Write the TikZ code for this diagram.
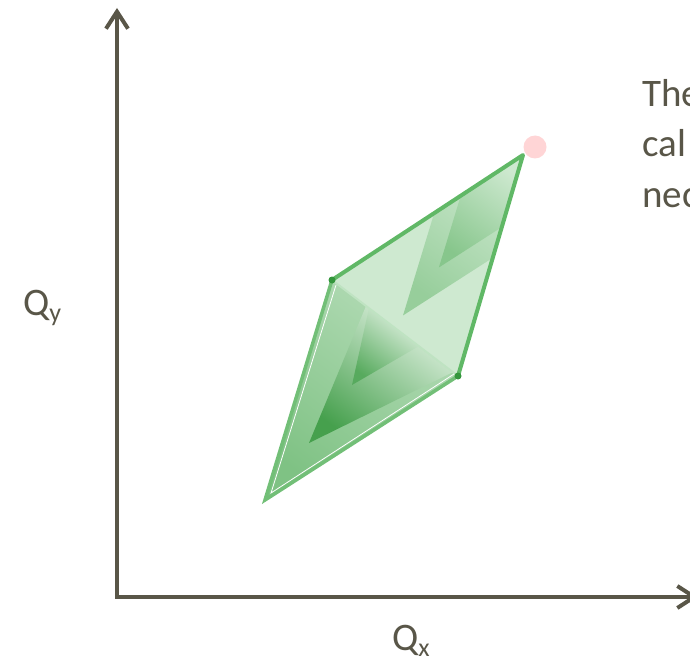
\documentclass[tikz,border=0pt]{standalone}
\usepackage{fontspec}
\setmainfont{Carlito}
\usetikzlibrary{arrows.meta,calc}
\definecolor{axisc}{RGB}{89,86,72}
\definecolor{pLight}{RGB}{206,233,208}
\definecolor{pMid}{RGB}{127,194,132}
\definecolor{pDark}{RGB}{70,160,77}
\definecolor{pPale}{RGB}{224,241,225}
\definecolor{pEdge}{RGB}{96,184,102}
\definecolor{pEdgeLow}{RGB}{114,191,119}
\definecolor{pMark}{RGB}{52,150,60}
\definecolor{dotpink}{RGB}{255,213,214}
\tikzset{
  axisline/.style={draw=axisc, line width=4pt, line join=miter,
    {Straight Barb[length=17pt,width=22pt]}-{Straight Barb[length=17pt,width=22pt]}},
  lbl/.style={text=axisc, font=\fontsize{39}{46}\selectfont, inner sep=0pt, anchor=base west},
  topedge/.style={draw=pEdge, line width=4pt, line join=round, line cap=round},
  lowedge/.style={draw=pEdgeLow, line width=3.5pt, line join=miter},
  diagline/.style={draw=pEdge!40, line width=2pt},
  vmark/.style={fill=pMark},
}
\begin{document}
\begin{tikzpicture}[x=1pt,y=-1pt]
\useasboundingbox (0,0) rectangle (690,663);
\clip (0,0) rectangle (690,663);
% key points
\coordinate (O) at (117,597);
\coordinate (Ytip) at (117,8);
\coordinate (Xtip) at (698,597);
\coordinate (P0) at (265,500);
\coordinate (L) at (332,280);
\coordinate (T) at (523,155);
\coordinate (R) at (458,376);
% parallelogram base
\fill[pLight] (P0) -- (L) -- (T) -- (R) -- cycle;
% lower triangle
\shade[bottom color=pMid, middle color=pMid, top color=pMid!45!pPale, shading angle=-37]
  (P0) -- (L) -- (R) -- cycle;
% lower chevrons
\coordinate (B1) at (309,443); \coordinate (B2) at (366,306); \coordinate (B3) at (453,372);
\coordinate (C1) at (352,385); \coordinate (C2) at (369,308); \coordinate (C3) at (419,346);
\shade[bottom color=pDark, middle color=pDark!65!pPale, top color=pPale, shading angle=-37]
  (B1) -- (B2) -- (B3) -- cycle;
\shade[bottom color=pDark!70!pMid, middle color=pDark!45!pPale, top color=pPale, shading angle=-37]
  (C1) -- (C2) -- (C3) -- cycle;
% upper triangle chevrons
\begin{scope}
  \clip (L) -- (T) -- (R) -- cycle;
  \foreach \t/\dc in {0.535/pMid!70!pLight, 0.674/pMid!90!pLight} {
    \shade[bottom color=\dc, middle color=pLight!70!pPale, top color=pLight, shading angle=-37]
      ($(P0)!\t!(T)$) -- ($(T)!{1-\t}!(L)$) -- (T) -- ($(T)!{1-\t}!(R)$) -- cycle;
  }
\end{scope}
% edges
\draw[diagline] (L) -- (R);
\draw[lowedge] (L) -- (P0) -- (R);
\draw[white, line width=0.8pt] ($(L)+(4,5)$) -- ($(P0)+(6,-7)$) -- ($(R)+(-4,-2)$);
\draw[topedge] (L) -- (T) -- (R);
\fill[vmark] (L) circle (3.5);
\fill[vmark] (R) circle (3.5);
\fill[dotpink] (535,147) circle (11.5);
% axes
\draw[axisline] (Ytip) -- (O) -- (Xtip);
% labels
\node[lbl] (qy) at (23,315) {Q\raisebox{-6pt}{\fontsize{26}{26}\selectfont y}};
\node[lbl] (qx) at (392,650) {Q\raisebox{-6pt}{\fontsize{26}{26}\selectfont x}};
\node[lbl] (t1) at (642,107) {The};
\node[lbl] (t2) at (642,157) {cal};
\node[lbl] (t3) at (642,207) {nec};
\end{tikzpicture}
\end{document}
